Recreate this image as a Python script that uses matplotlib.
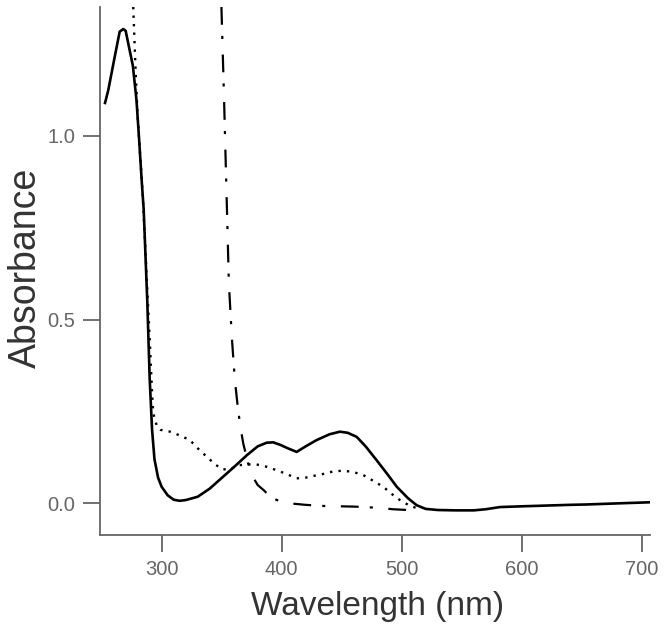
import matplotlib
matplotlib.use("Agg")
import matplotlib.pyplot as plt

plt.rcParams['font.family'] = ['Liberation Sans', 'DejaVu Sans']

# Solid trace
solid_x = [252.8, 255.5, 260, 265, 268, 270, 276, 279, 281, 283.5, 285, 288, 290, 292,
           294, 297, 300, 305, 310, 315, 320, 330, 340, 351, 360, 371, 380, 387.5, 393,
           399, 405, 412.5, 420, 429, 440, 448.6, 455, 462.5, 470, 479, 488, 496, 505,
           512.5, 520, 530, 545, 560, 570, 582, 600, 620, 640, 654, 680, 707]
solid_y = [1.089, 1.124, 1.20, 1.283, 1.29, 1.285, 1.19, 1.097, 1.0, 0.87, 0.80, 0.55,
           0.34, 0.20, 0.12, 0.07, 0.045, 0.022, 0.01, 0.007, 0.009, 0.018, 0.04, 0.072,
           0.098, 0.131, 0.155, 0.165, 0.166, 0.159, 0.15, 0.14, 0.155, 0.172, 0.188,
           0.195, 0.192, 0.181, 0.155, 0.118, 0.08, 0.045, 0.015, -0.005, -0.015, -0.018,
           -0.019, -0.019, -0.016, -0.01, -0.008, -0.006, -0.004, -0.003, 0.0, 0.003]

# Dotted trace
dot_x = [276.3, 278, 280, 282, 284, 286, 288, 290, 292, 293, 296, 299, 307, 315, 323.6,
         330, 337.5, 345, 351, 358, 365, 372, 379, 387, 396, 404, 412.5, 420, 427, 434.7,
         443, 451.4, 460, 468, 476, 484.7, 492, 498.6, 507, 515]
dot_y = [1.35, 1.2, 1.05, 0.95, 0.85, 0.72, 0.58, 0.45, 0.3, 0.245, 0.21, 0.2, 0.195,
         0.185, 0.172, 0.15, 0.127, 0.105, 0.092, 0.095, 0.104, 0.106, 0.106, 0.1, 0.09,
         0.08, 0.068, 0.07, 0.075, 0.08, 0.087, 0.089, 0.085, 0.077, 0.062, 0.045, 0.025,
         0.009, -0.007, -0.015]

# Dash-dot trace
dd_x = [349.8, 352, 354, 356, 358.5, 361, 363.5, 365.5, 368, 372, 376, 380, 385, 390,
        396, 407, 420, 434.7, 450, 462.5, 480, 493, 505]
dd_y = [1.35, 1.1, 0.85, 0.6, 0.45, 0.336, 0.26, 0.21, 0.163, 0.109, 0.072, 0.05, 0.036,
        0.02, 0.009, 0.0, -0.004, -0.007, -0.008, -0.009, -0.012, -0.016, -0.018]

x_ticks = [300, 400, 500, 600, 700]
y_ticks = [0.0, 0.5, 1.0]
y_tick_labels = ["0.0", "0.5", "1.0"]

fig = plt.figure(figsize=(6.64, 6.34), dpi=100)
ax = fig.add_axes([100/664, 1 - 535/634, 550/664, 528/634])

ax.plot(solid_x, solid_y, color='black', lw=1.9, solid_joinstyle='round')
ax.plot(dot_x, dot_y, color='black', lw=1.7, linestyle=(0, (1, 2.6)))
ax.plot(dd_x, dd_y, color='black', lw=1.6, linestyle=(0, (8, 5, 1.4, 7)))

ax.set_xlim(248.6, 707)
ax.set_ylim(-0.086, 1.35)
ax.set_xticks(x_ticks)
ax.set_yticks(y_ticks)
ax.set_yticklabels(y_tick_labels)

for s in ['top', 'right']:
    ax.spines[s].set_visible(False)
for s in ['left', 'bottom']:
    ax.spines[s].set_color('#666666')
    ax.spines[s].set_linewidth(1.3)

ax.tick_params(axis='both', direction='out', length=12, width=1.3, color='#666666',
               labelsize=14.5, labelcolor='#666666')
ax.tick_params(axis='x', pad=6)
ax.tick_params(axis='y', pad=6)

fig.text(378/664, 1 - 607/634, "Wavelength (nm)", fontsize=24, color='#333333',
         ha='center', va='center')
fig.text(26/664, 1 - 268/634, "Absorbance", fontsize=27, color='#333333',
         ha='center', va='center', rotation=90)

fig.savefig("out.png", dpi=100)
